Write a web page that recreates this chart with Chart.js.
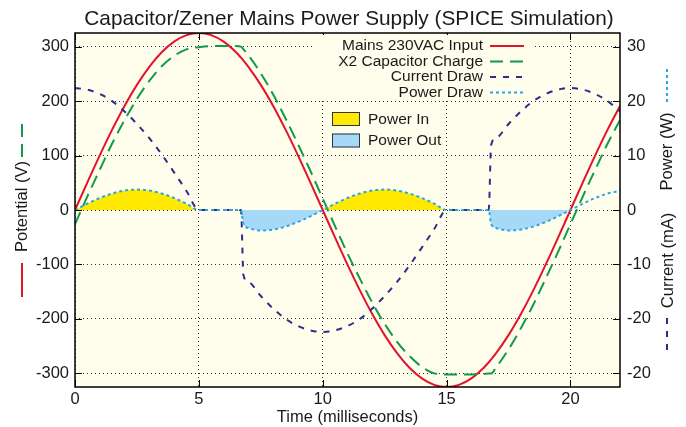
<!DOCTYPE html>
<html>
<head>
<meta charset="utf-8">
<title>Capacitor/Zener Mains Power Supply</title>
<script src="https://cdn.jsdelivr.net/npm/chart.js@4.4.1/dist/chart.umd.min.js"></script>
<style>
  html, body { margin: 0; padding: 0; background: #fff; }
  #wrap { width: 686px; height: 427px; }
</style>
</head>
<body>
<div id="wrap"><canvas id="supplyChart" width="686" height="427"></canvas></div>
<script>
// sample times (ms) - extra points where the bridge starts/stops conducting
const timeMs = [0, 0.5, 1, 1.5, 2, 2.5, 3, 3.5, 4, 4.5, 5, 5.5, 6, 6.5, 6.7, 6.8,
  7, 7.5, 8, 8.5, 9, 9.5, 10, 10.5, 11, 11.5, 12, 12.5, 13, 13.5, 14, 14.5,
  15, 15.5, 16, 16.5, 16.7, 16.8, 17, 17.5, 18, 18.5, 19, 19.5, 20, 20.5, 21, 21.5, 22];

// mains input (V)
const mainsVolts = [0, 50.8, 100.4, 147.5, 191.0, 229.8, 262.9, 289.6, 309.1, 321.0, 325, 321.0, 309.1, 289.6, 279.7, 274.4,
  262.9, 229.8, 191.0, 147.5, 100.4, 50.8, 0, -50.8, -100.4, -147.5, -191.0, -229.8, -262.9, -289.6, -309.1, -321.0,
  -325, -321.0, -309.1, -289.6, -279.7, -274.4, -262.9, -229.8, -191.0, -147.5, -100.4, -50.8, 0, 50.8, 100.4, 147.5, 191.0];

// voltage across the X2 dropper capacitor (V)
const capVolts = [-26, 25, 74, 122, 165, 204, 237, 264, 283, 295, 299, 301, 301, 301, 300, 295,
  284, 251, 212, 168, 121, 72, 21, -30, -80, -126, -170, -209, -242, -268, -288, -300,
  -302, -302, -302, -301, -300, -300, -289, -256, -217, -174, -126, -77, -26, 25, 74, 122, 165];

// current drawn from the mains (mA)
const currentMa = [22.4, 22.1, 21.3, 20.0, 18.1, 15.8, 13.2, 10.2, 6.9, 3.5, 0, 0, 0, 0, 0, -12.0,
  -13.2, -15.8, -18.1, -20.0, -21.3, -22.1, -22.4, -22.1, -21.3, -20.0, -18.1, -15.8, -13.2, -10.2, -6.9, -3.5,
  0, 0, 0, 0, 0, 12.0, 13.2, 15.8, 18.1, 20.0, 21.3, 22.1, 22.4, 22.1, 21.3, 20.0, 18.1];

// instantaneous power (W)
const powerW = [0, 1.16, 2.2, 3.03, 3.57, 3.75, 3.57, 3.03, 2.2, 1.16, 0, 0, 0, 0, 0, -2.6,
  -3.3, -3.75, -3.6, -3.05, -2.2, -1.16, 0, 1.16, 2.2, 3.03, 3.57, 3.75, 3.57, 3.03, 2.2, 1.16,
  0, 0, 0, 0, 0, -2.6, -3.3, -3.75, -3.6, -3.05, -2.2, -1.16, 0, 1.16, 2.2, 3.03, 3.5];

// shaded power in/out only covers the first full cycle
const shadeUntilMs = 20;

const xTicks = [0, 5, 10, 15, 20];
const voltTicks = [-300, -200, -100, 0, 100, 200, 300];
const rightTicks = [30, 20, 10, 0, -10, -20, -30];
const rightTickLabels = ['30', '20', '10', '0', '-10', '-20', '-20'];

const seriesNames = ['Mains 230VAC Input', 'X2 Capacitor Charge', 'Current Draw', 'Power Draw'];
const fillNames = ['Power In', 'Power Out'];

const RED = '#e2142b', GREEN = '#129a4a', NAVY = '#2e2e88', SKY = '#2aa5e6';
const YELLOW = '#ffe900', PALEBLUE = '#a6d9f7', PAPER = '#fffdec';
const FONT = '"Liberation Sans", Arial, sans-serif';

const pts = arr => timeMs.map((t, i) => ({ x: t, y: arr[i] }));
const fixTicks = list => scale => { scale.ticks = list.map(v => ({ value: v })); };

const gridOpts = { color: '#333', lineWidth: 1, drawTicks: false };
const tickFont = { family: FONT, size: 16.5 };

function line(ctx, x1, y1, x2, y2) {
  ctx.beginPath(); ctx.moveTo(x1, y1); ctx.lineTo(x2, y2); ctx.stroke();
}

const decorations = {
  id: 'decorations',
  beforeDraw(chart) {
    const { ctx, chartArea: a } = chart;
    ctx.save();
    ctx.fillStyle = PAPER;
    ctx.fillRect(a.left, a.top, a.right - a.left, a.bottom - a.top);
    ctx.restore();
  },
  afterDraw(chart) {
    const { ctx, chartArea: a, scales } = chart;
    ctx.save();

    // frame and inward tick marks
    ctx.strokeStyle = '#000';
    ctx.lineWidth = 1;
    xTicks.forEach(v => {
      const px = Math.round(scales.x.getPixelForValue(v)) + 0.5;
      line(ctx, px, a.bottom, px, a.bottom - 7);
      line(ctx, px, a.top, px, a.top + 7);
    });
    voltTicks.forEach(v => {
      const py = Math.round(scales.y.getPixelForValue(v)) + 0.5;
      line(ctx, a.left, py, a.left + 7, py);
    });
    rightTicks.forEach(v => {
      const py = Math.round(scales.y2.getPixelForValue(v)) + 0.5;
      line(ctx, a.right - 7, py, a.right, py);
    });
    ctx.lineWidth = 1.5;
    ctx.strokeRect(a.left, a.top, a.right - a.left, a.bottom - a.top);

    // line key, top right
    ctx.fillStyle = PAPER;
    ctx.fillRect(312, 35, 220, 65);
    const rows = [46, 61.5, 77, 92.5];
    const styles = [[RED, []], [GREEN, [13, 7]], [NAVY, [6, 7]], [SKY, [3, 3]]];
    ctx.font = '15.5px ' + FONT;
    ctx.textAlign = 'right';
    ctx.textBaseline = 'middle';
    seriesNames.forEach((name, i) => {
      ctx.fillStyle = '#1a1a1a';
      ctx.fillText(name, 483, rows[i]);
      ctx.strokeStyle = styles[i][0];
      ctx.lineWidth = 2;
      ctx.setLineDash(styles[i][1]);
      line(ctx, 490, rows[i], 524, rows[i]);
    });
    ctx.setLineDash([]);

    // fill key
    const boxes = [[112, YELLOW], [133.5, PALEBLUE]];
    ctx.textAlign = 'left';
    fillNames.forEach((name, i) => {
      const [by, col] = boxes[i];
      ctx.fillStyle = col;
      ctx.fillRect(332, by, 28, 14);
      ctx.strokeStyle = '#333';
      ctx.lineWidth = 1;
      ctx.strokeRect(332.5, by + 0.5, 27, 13);
      ctx.fillStyle = '#1a1a1a';
      ctx.fillText(name, 368, by + 7.5);
    });

    // title
    ctx.font = '20.8px ' + FONT;
    ctx.textAlign = 'center';
    ctx.fillText('Capacitor/Zener Mains Power Supply (SPICE Simulation)', 349, 19);

    // side axis labels with their line samples
    ctx.font = '16.5px ' + FONT;
    const sideText = (txt, x, y) => {
      ctx.save();
      ctx.translate(x, y);
      ctx.rotate(-Math.PI / 2);
      ctx.fillText(txt, 0, 0);
      ctx.restore();
    };
    sideText('Potential (V)', 22, 206.5);
    sideText('Power (W)', 667, 151.5);
    sideText('Current (mA)', 668, 260.5);

    ctx.lineWidth = 2;
    ctx.strokeStyle = RED;
    line(ctx, 22, 263, 22, 297);
    ctx.strokeStyle = GREEN;
    ctx.setLineDash([13, 7]);
    line(ctx, 22, 157, 22, 124);
    ctx.strokeStyle = SKY;
    ctx.setLineDash([3, 3]);
    line(ctx, 667, 102, 667, 67);
    ctx.strokeStyle = NAVY;
    ctx.setLineDash([6, 7]);
    line(ctx, 667, 318, 667, 354);
    ctx.restore();
  }
};

const lineDefaults = { pointRadius: 0, borderWidth: 2, cubicInterpolationMode: 'monotone', fill: false };

new Chart(document.getElementById('supplyChart'), {
  type: 'line',
  data: {
    datasets: [
      { ...lineDefaults, label: seriesNames[3], data: pts(powerW), yAxisID: 'y2',
        borderColor: SKY, borderDash: [3, 3] },
      { ...lineDefaults, label: seriesNames[2], data: pts(currentMa), yAxisID: 'y2',
        borderColor: NAVY, borderDash: [6, 7] },
      { ...lineDefaults, label: seriesNames[1], data: pts(capVolts), yAxisID: 'y',
        borderColor: GREEN, borderDash: [13, 7] },
      { ...lineDefaults, label: seriesNames[0], data: pts(mainsVolts), yAxisID: 'y',
        borderColor: RED },
      { ...lineDefaults, label: fillNames.join(' / '), yAxisID: 'y2',
        data: pts(powerW).filter(p => p.x <= shadeUntilMs),
        borderWidth: 0, borderColor: 'rgba(0,0,0,0)',
        fill: { target: 'origin', above: YELLOW, below: PALEBLUE } }
    ]
  },
  options: {
    responsive: false,
    devicePixelRatio: 1,
    animation: false,
    layout: { padding: { top: 33, left: 0, right: 0, bottom: 0 } },
    plugins: {
      legend: { display: false },
      tooltip: { enabled: false },
      filler: { drawTime: 'beforeDatasetsDraw' }
    },
    scales: {
      x: {
        type: 'linear', min: 0, max: 22,
        afterBuildTicks: fixTicks(xTicks),
        afterFit: s => { s.height = 40; },
        grid: gridOpts,
        border: { display: false, dash: [1, 3] },
        ticks: { font: tickFont, color: '#1a1a1a', padding: 3, maxRotation: 0 },
        title: { display: true, text: 'Time (milliseconds)', font: tickFont, color: '#1a1a1a',
                 padding: { top: 0, bottom: 0 } }
      },
      y: {
        position: 'left', min: -325, max: 325,
        afterBuildTicks: fixTicks(voltTicks),
        afterFit: s => { s.width = 75; },
        grid: gridOpts,
        border: { display: false, dash: [1, 3] },
        ticks: { font: tickFont, color: '#1a1a1a', padding: 6 }
      },
      y2: {
        position: 'right', min: -32.5, max: 32.5,
        afterBuildTicks: fixTicks(rightTicks),
        afterFit: s => { s.width = 66; },
        grid: { drawOnChartArea: false, drawTicks: false },
        border: { display: false },
        ticks: { font: tickFont, color: '#1a1a1a', padding: 7,
                 callback: (v, i) => rightTickLabels[i] }
      }
    }
  },
  plugins: [decorations]
});
</script>
</body>
</html>
